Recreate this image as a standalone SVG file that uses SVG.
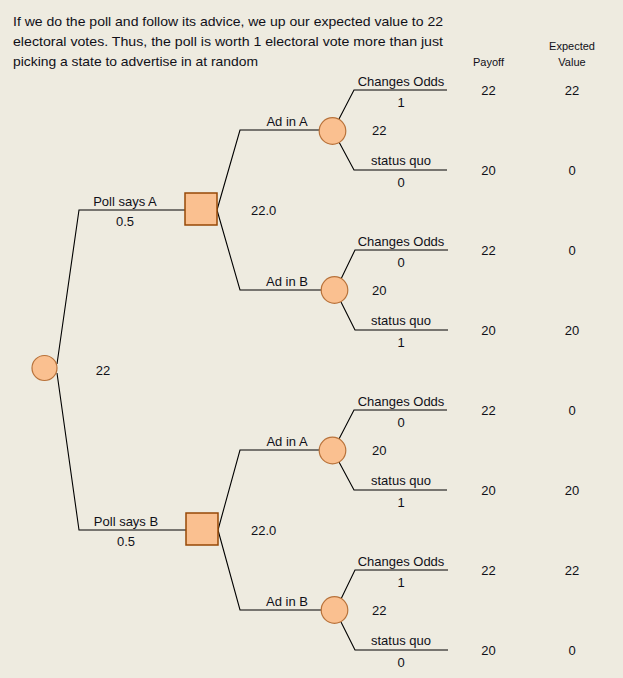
<svg xmlns="http://www.w3.org/2000/svg" width="623" height="678" viewBox="0 0 623 678">
<style>
text{font-family:"Liberation Sans",Arial,sans-serif;font-size:13px;fill:#101018}
.c{text-anchor:middle}
.s{font-size:11px}
.ch{fill:#FAC090;stroke:#B8723A;stroke-width:1.2}
.dc{fill:#FAC090;stroke:#974806;stroke-width:1.5}
.ln{fill:none;stroke:#000;stroke-width:1.1}
</style>
<rect width="623" height="678" fill="#EEEBE0"/>
<g id="header">
<text x="13" y="26" textLength="430" lengthAdjust="spacingAndGlyphs">If we do the poll and follow its advice, we up our expected value to 22</text>
<text x="13" y="46" textLength="430" lengthAdjust="spacingAndGlyphs">electoral votes.  Thus, the poll is worth 1 electoral vote more than just</text>
<text x="13" y="66" textLength="245" lengthAdjust="spacingAndGlyphs">picking a state to advertise in at random</text>
<text class="c s" x="488.5" y="66">Payoff</text>
<text class="c s" x="572" y="50">Expected</text>
<text class="c s" x="572" y="66">Value</text>
</g>
<g id="connectors" class="ln">
<path class="ln" d="M57,364 L79,210 H185"/>
<path class="ln" d="M57,373 L79,530 H186"/>
<path class="ln" d="M217,210 L240,130 H319"/>
<path class="ln" d="M217,210 L240,290 H322"/>
<path class="ln" d="M218,530 L240,450 H319"/>
<path class="ln" d="M218,530 L240,610 H322"/>
<path class="ln" d="M339,119 L354,90 H447 M339,142 L354,170 H447"/>
<path class="ln" d="M341,279 L355,250 H448 M341,302 L355,330 H448"/>
<path class="ln" d="M339,439 L354,410 H447 M339,462 L354,490 H447"/>
<path class="ln" d="M341,599 L355,570 H448 M341,622 L355,650 H448"/>
</g>
<g id="root">
<circle class="ch" cx="44.5" cy="368" r="12.5"/>
<text class="c" x="103" y="374.5">22</text>
</g>
<g id="pollA">
<rect class="dc" x="185" y="193" width="32" height="32"/>
<text class="c" x="125" y="206">Poll says A</text>
<text class="c" x="125" y="226">0.5</text>
<text x="251" y="214.5">22.0</text>
</g>
<g id="pollB">
<rect class="dc" x="186" y="513" width="32" height="32"/>
<text class="c" x="126" y="526">Poll says B</text>
<text class="c" x="126" y="546">0.5</text>
<text x="251" y="535">22.0</text>
</g>
<g id="adA1">
<circle class="ch" cx="332.5" cy="131" r="13.3"/>
<text class="c" x="287" y="126">Ad in A</text>
<text x="372" y="134.5">22</text>
<text class="c" x="401" y="86">Changes Odds</text>
<text class="c" x="401" y="106.5">1</text>
<text class="c" x="401" y="165">status quo</text>
<text class="c" x="401" y="186.5">0</text>
<text class="c" x="488.5" y="94.5">22</text>
<text class="c" x="572" y="94.5">22</text>
<text class="c" x="488.5" y="174.5">20</text>
<text class="c" x="572" y="174.5">0</text>
</g>
<g id="adB1">
<circle class="ch" cx="334.5" cy="290" r="13.3"/>
<text class="c" x="287" y="286">Ad in B</text>
<text x="372" y="294.5">20</text>
<text class="c" x="401" y="246">Changes Odds</text>
<text class="c" x="401" y="266.5">0</text>
<text class="c" x="401" y="325">status quo</text>
<text class="c" x="401" y="346.5">1</text>
<text class="c" x="488.5" y="254.5">22</text>
<text class="c" x="572" y="254.5">0</text>
<text class="c" x="488.5" y="334.5">20</text>
<text class="c" x="572" y="334.5">20</text>
</g>
<g id="adA2">
<circle class="ch" cx="332.5" cy="450.5" r="13.3"/>
<text class="c" x="287" y="446">Ad in A</text>
<text x="372" y="454.5">20</text>
<text class="c" x="401" y="406">Changes Odds</text>
<text class="c" x="401" y="426.5">0</text>
<text class="c" x="401" y="485">status quo</text>
<text class="c" x="401" y="506.5">1</text>
<text class="c" x="488.5" y="414.5">22</text>
<text class="c" x="572" y="414.5">0</text>
<text class="c" x="488.5" y="494.5">20</text>
<text class="c" x="572" y="494.5">20</text>
</g>
<g id="adB2">
<circle class="ch" cx="334.5" cy="610" r="13.3"/>
<text class="c" x="287" y="606">Ad in B</text>
<text x="372" y="614.5">22</text>
<text class="c" x="401" y="566">Changes Odds</text>
<text class="c" x="401" y="586.5">1</text>
<text class="c" x="401" y="645">status quo</text>
<text class="c" x="401" y="666.5">0</text>
<text class="c" x="488.5" y="574.5">22</text>
<text class="c" x="572" y="574.5">22</text>
<text class="c" x="488.5" y="654.5">20</text>
<text class="c" x="572" y="654.5">0</text>
</g>
</svg>
